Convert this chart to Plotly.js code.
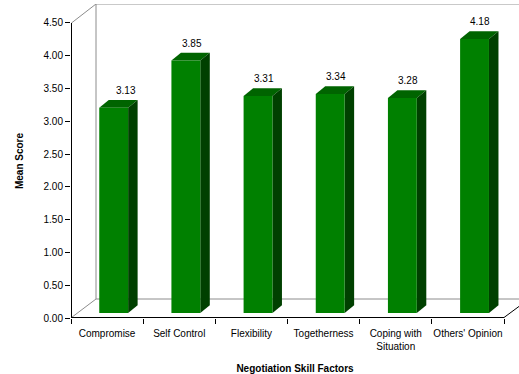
<!DOCTYPE html>
<html>
<head>
<meta charset="utf-8">
<script src="https://cdn.plot.ly/plotly-3.0.1.min.js"></script>
<style>html,body{margin:0;padding:0;background:#fff;}#chart{width:519px;height:374px;}</style>
</head>
<body>
<div id="chart"></div>
<script>
const categories = ['Compromise', 'Self Control', 'Flexibility', 'Togetherness', 'Coping with<br>Situation', "Others' Opinion"];
const values = [3.13, 3.85, 3.31, 3.34, 3.28, 4.18];
const yTicks = [0, 0.5, 1, 1.5, 2, 2.5, 3, 3.5, 4, 4.5];

// geometry (pixel scale of the front plane)
const PXX = 72.17, PXY = 65.56;
const W = 519, H = 374, ML = 71, MR = 0, MT = 4, MB = 56;
const xMax = (W - ML - MR) / PXX;
const yMax = (H - MT - MB) / PXY;
const yTop = 4.5;
const DX = 25 / PXX, DY = 19 / PXY;        // full depth of the box
const dx0 = 6.6 / PXX, dy0 = 5 / PXY;      // bar front plane
const ddx = 9.5 / PXX, ddy = 7.8 / PXY;    // bar depth
const BW = 0.4;
const n = categories.length;

const FRONT = '#008000', TOP = '#006400', SIDE = '#004000';
const GRAY = '#8c8c8c';
const FONT = 'Arial, "Liberation Sans", Helvetica, sans-serif';

const traces = [];
const centers = values.map((v, i) => i + 0.5 + dx0);

traces.push({
  type: 'bar', x: centers, y: values, base: values.map(() => dy0), width: BW,
  xaxis: 'x2', yaxis: 'y',
  marker: {color: FRONT, line: {width: 0}}, hoverinfo: 'skip', showlegend: false
});

values.forEach((v, i) => {
  const xl = centers[i] - BW / 2, xr = centers[i] + BW / 2;
  const yb = dy0, yt = v + dy0;
  traces.push({
    type: 'scatter', mode: 'none', fill: 'toself', fillcolor: TOP,
    x: [xl, xr, xr + ddx, xl + ddx, xl], y: [yt, yt, yt + ddy, yt + ddy, yt],
    hoverinfo: 'skip', showlegend: false
  });
  traces.push({
    type: 'scatter', mode: 'none', fill: 'toself', fillcolor: SIDE,
    x: [xr, xr + ddx, xr + ddx, xr, xr], y: [yb, yb + ddy, yt + ddy, yt, yb],
    hoverinfo: 'skip', showlegend: false
  });
});

const hx = 0.5 / PXX, hy = 0.5 / PXY;
const line = (x0, y0, x1, y1, color) => ({type: 'line', xref: 'x', yref: 'y', x0, y0, x1, y1, layer: 'below', line: {color, width: 1}});
const shapes = [
  line(DX, DY, DX, yTop + DY, GRAY),
  line(DX, yTop + DY, n + DX, yTop + DY, GRAY),
  line(DX, DY, n + DX, DY, GRAY),
  line(n + DX, DY, n + DX, yTop + DY, GRAY),
  line(hx, yTop, DX, yTop + DY, GRAY),
  line(hx, hy, DX, DY, GRAY),
  line(n, hy, n + DX, DY, '#000'),
  line(hx, 0, hx, yTop, '#000'),
  line(0, hy, n, hy, '#000')
];

const labelShift = values.map((v, i) => i === 0 ? ddx * 1.3 : ddx * 0.6);
const annotations = values.map((v, i) => ({
  x: centers[i] + labelShift[i], y: v + dy0 + ddy, xref: 'x', yref: 'y',
  text: v.toFixed(2), showarrow: false, yanchor: 'bottom', yshift: 2,
  font: {family: FONT, size: 10, color: '#000'}
}));

const layout = {
  width: W, height: H,
  margin: {l: ML, r: MR, t: MT, b: MB},
  paper_bgcolor: '#fff', plot_bgcolor: 'rgba(0,0,0,0)',
  showlegend: false,
  font: {family: FONT, size: 10, color: '#000'},
  xaxis: {
    type: 'linear', range: [0, xMax], fixedrange: true,
    tickvals: Array.from({length: n + 1}, (_, k) => k),
    ticks: 'outside', ticklen: 5, tickwidth: 1, tickcolor: '#000',
    showticklabels: false, showgrid: false, zeroline: false, showline: false
  },
  xaxis2: {
    type: 'linear', range: [0, xMax], overlaying: 'x', anchor: 'y', side: 'bottom', fixedrange: true,
    tickvals: categories.map((c, i) => i + 0.5), ticktext: categories,
    ticks: 'outside', ticklen: 6, tickcolor: 'rgba(0,0,0,0)', showgrid: false, zeroline: false, showline: false,
    tickfont: {family: FONT, size: 10, color: '#000'},
    title: {text: 'Negotiation Skill Factors', standoff: 15, font: {family: FONT, size: 10, color: '#000', weight: 'bold'}}
  },
  yaxis: {
    type: 'linear', range: [0, yMax], fixedrange: true,
    tickvals: yTicks, tickformat: '.2f',
    ticks: 'outside', ticklen: 5, tickwidth: 1, tickcolor: '#000',
    showgrid: false, zeroline: false, showline: false,
    tickfont: {family: FONT, size: 10, color: '#000'},
    title: {text: 'Mean Score', standoff: 18, font: {family: FONT, size: 10, color: '#000', weight: 'bold'}}
  },
  shapes, annotations
};

Plotly.newPlot('chart', traces, layout, {displayModeBar: false, staticPlot: true});
</script>
</body>
</html>
